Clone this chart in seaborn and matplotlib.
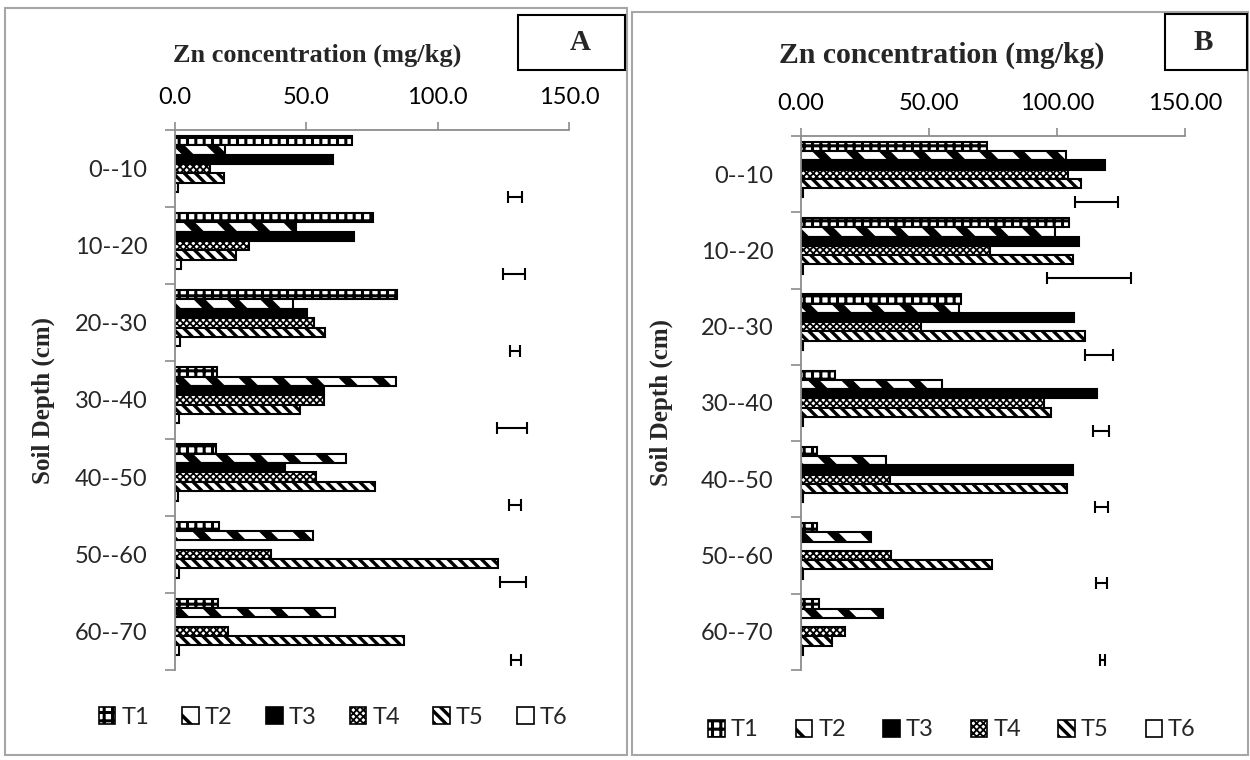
import numpy as np
import pandas as pd
import matplotlib as mpl
mpl.use("Agg")
import matplotlib.pyplot as plt
from matplotlib.patches import Patch, Rectangle
import seaborn as sns

# ---------------- data ----------------
depths = ["0--10", "10--20", "20--30", "30--40", "40--50", "50--60", "60--70"]
treatments = ["T1", "T2", "T3", "T4", "T5", "T6"]
x_ticks = [0, 50, 100, 150]

A_T1 = [67.3, 75.5, 84.4, 16.0, 15.7, 16.9, 16.5]
A_T2 = [18.9, 46.0, 45.1, 84.3, 65.1, 52.6, 60.9]
A_T3 = [60.2, 68.1, 50.4, 56.8, 41.8, 0.0, 0.0]
A_T4 = [13.2, 28.1, 53.1, 56.8, 53.6, 36.4, 20.1]
A_T5 = [18.5, 23.4, 57.1, 47.4, 76.1, 123.0, 87.1]
A_T6 = [1.3, 2.2, 1.9, 1.7, 1.3, 1.7, 1.7]
A_err_center = [129.5, 129.0, 129.6, 128.4, 129.6, 128.7, 129.8]
A_err_half = [2.7, 4.1, 1.9, 5.7, 2.3, 5.0, 2.0]

B_T1 = [72.5, 104.6, 62.4, 13.3, 6.1, 6.3, 7.1]
B_T2 = [103.5, 99.3, 61.7, 54.9, 33.3, 27.2, 32.2]
B_T3 = [118.8, 108.6, 106.8, 115.8, 106.1, 0.0, 0.0]
B_T4 = [104.2, 73.9, 46.8, 94.8, 34.9, 35.3, 17.0]
B_T5 = [109.5, 106.1, 111.0, 97.5, 103.9, 74.5, 12.0]
B_T6 = [0.6, 0.6, 0.6, 0.6, 0.6, 0.6, 0.6]
B_err_center = [115.3, 112.5, 116.4, 117.1, 117.3, 117.5, 117.8]
B_err_half = [8.4, 16.3, 5.4, 3.1, 2.6, 2.1, 1.0]

# ---------------- styles ----------------
sns.set_theme(style="white")
plt.rcParams["font.family"] = ["Lato", "DejaVu Sans"]

styles = {
    "T1": dict(fc="white", hatch="++", hlw=2.2),
    "T2": dict(fc="white", hatch="\\", hlw=6.0),
    "T3": dict(fc="black", hatch=None, hlw=1.0),
    "T4": dict(fc="white", hatch="xxxxx", hlw=1.3),
    "T5": dict(fc="white", hatch="\\\\\\", hlw=2.4),
    "T6": dict(fc="white", hatch=None, hlw=1.0),
}
GREY = "#8c8c8c"
SERIF = ["Liberation Serif", "DejaVu Serif"]
W, H = 1250, 760


def set_hlw(p, lw):
    p._hatch_linewidth = lw
    orig = p.draw

    def draw(renderer, _orig=orig, _lw=lw):
        with mpl.rc_context({"hatch.linewidth": _lw}):
            _orig(renderer)
    p.draw = draw


def draw_panel(ax, series, err_c, err_h, fmt, ylab_size, ylab_x):
    rows = []
    for name, arr in zip(treatments, series):
        for d, v in zip(depths, arr):
            rows.append({"depth": d, "value": v, "series": name})
    for d, v in zip(depths, err_c):
        rows.append({"depth": d, "value": v, "series": "err"})
    df = pd.DataFrame(rows)
    order = treatments + ["err"]
    sns.barplot(data=df, x="value", y="depth", hue="series", hue_order=order,
                order=depths, orient="h", palette=["white"] * 7, saturation=1,
                edgecolor="black", linewidth=1.5, width=0.85, errorbar=None,
                legend=False, ax=ax)
    for cont, name in zip(ax.containers, order):
        if name == "err":
            yc = [p.get_y() + p.get_height() / 2 for p in cont.patches]
            for p in cont.patches:
                p.set_visible(False)
            ax.errorbar(err_c, yc, xerr=err_h, fmt="none", ecolor="black",
                        elinewidth=1.5, capsize=4, capthick=1.5)
            continue
        st = styles[name]
        for p in cont.patches:
            p.set_facecolor(st["fc"])
            if st["hatch"]:
                p.set_hatch(st["hatch"])
                set_hlw(p, st["hlw"])

    ax.set_xlim(0, 150)
    ax.set_ylim(len(depths) - 0.5, -0.5)
    ax.xaxis.tick_top()
    ax.set_xticks(x_ticks)
    ax.set_xticklabels([fmt.format(v) for v in x_ticks])
    ax.tick_params(axis="x", which="major", top=True, length=6, width=1.2,
                   color=GREY, labelsize=17, pad=10, labelcolor="black")
    ax.set_yticks(np.arange(-0.5, len(depths), 1.0))
    ax.set_yticklabels([])
    ax.set_yticks(np.arange(len(depths)), labels=depths, minor=True)
    ax.tick_params(axis="y", which="major", left=True, length=7, width=1.2,
                   color=GREY)
    ax.tick_params(axis="y", which="minor", left=True, length=0, pad=20,
                   labelsize=17)
    for s in ["right", "bottom"]:
        ax.spines[s].set_visible(False)
    for s in ["top", "left"]:
        ax.spines[s].set_color(GREY)
        ax.spines[s].set_linewidth(1.3)
    ax.set_xlabel("")
    ax.set_ylabel("Soil Depth (cm)", fontfamily=SERIF, fontweight="bold",
                  fontsize=ylab_size)
    ax.yaxis.set_label_coords(ylab_x, 0.5)
    ax.grid(False)


fig = plt.figure(figsize=(12.5, 7.6), dpi=100)
axA = fig.add_axes([175 / W, 1 - 670 / H, 394 / W, 540 / H])
axB = fig.add_axes([801 / W, 1 - 670 / H, 384 / W, 534 / H])

draw_panel(axA, [A_T1, A_T2, A_T3, A_T4, A_T5, A_T6], A_err_center, A_err_half,
           "{:.1f}", 18, (55 - 175) / 394)
draw_panel(axB, [B_T1, B_T2, B_T3, B_T4, B_T5, B_T6], B_err_center, B_err_half,
           "{:.2f}", 18, (673 - 801) / 384)

# x-axis titles (placed as in the reference, not centred on the axes)
fig.text(317 / W, 1 - 55 / H, "Zn concentration (mg/kg)", ha="center",
         va="center", fontfamily=SERIF, fontweight="bold", fontsize=19)
fig.text(942 / W, 1 - 55 / H, "Zn concentration (mg/kg)", ha="center",
         va="center", fontfamily=SERIF, fontweight="bold", fontsize=21.4)


# legends
def handles():
    hs = []
    for name in treatments:
        st = styles[name]
        hs.append(Patch(facecolor=st["fc"], edgecolor="black", hatch=st["hatch"],
                        linewidth=1.2, label=name))
    return hs


legA = fig.legend(handles=handles(), loc="center", ncol=6, frameon=False,
                  bbox_to_anchor=(333 / W, 1 - 717 / H), fontsize=17,
                  handlelength=0.7, handleheight=0.7, handletextpad=0.25,
                  columnspacing=1.42)
legB = fig.legend(handles=handles(), loc="center", ncol=6, frameon=False,
                  bbox_to_anchor=(952 / W, 1 - 730 / H), fontsize=17,
                  handlelength=0.7, handleheight=0.7, handletextpad=0.25,
                  columnspacing=1.58)
for leg in (legA, legB):
    for p, name in zip(leg.get_patches(), treatments):
        if styles[name]["hatch"]:
            set_hlw(p, min(styles[name]["hlw"], 2.5))


# panel frames
def frect(x0, y0, x1, y1, **kw):
    fig.add_artist(Rectangle((x0 / W, 1 - y1 / H), (x1 - x0) / W, (y1 - y0) / H,
                             transform=fig.transFigure, fill=False, **kw))


frect(5, 8, 627, 755, edgecolor="#a6a6a6", linewidth=1.5)
frect(632, 12, 1248, 755, edgecolor="#a6a6a6", linewidth=1.5)
frect(518, 15, 625, 70, edgecolor="black", linewidth=1.5)
frect(1165, 14, 1247, 70, edgecolor="black", linewidth=1.5)
fig.text(580 / W, 1 - 43 / H, "A", ha="center", va="center",
         fontfamily=SERIF, fontweight="bold", fontsize=21)
fig.text(1203 / W, 1 - 43 / H, "B", ha="center", va="center",
         fontfamily=SERIF, fontweight="bold", fontsize=21)

fig.savefig("out.png", dpi=100, facecolor="white")
